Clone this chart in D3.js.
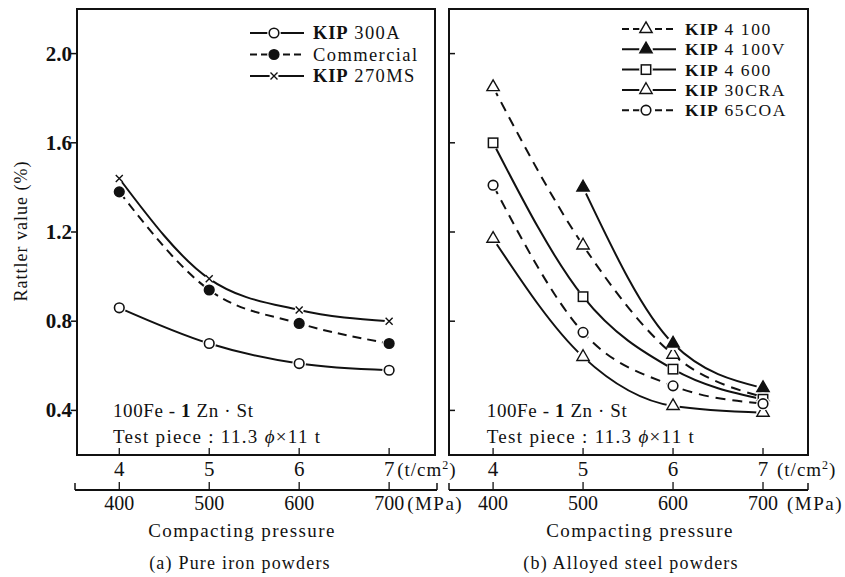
<!DOCTYPE html>
<html><head><meta charset="utf-8">
<script src="https://cdn.jsdelivr.net/npm/d3@7"></script>
<style>
body{margin:0;background:#fff;}
svg text{fill:#111;}
</style></head>
<body><svg id="c" width="845" height="577" font-family="'Liberation Serif', 'Times New Roman', Times, 'DejaVu Serif', serif"></svg>
<script>
// ---- data ----
const pressureT = [4, 5, 6, 7];            // t/cm2
const pressureMPa = [400, 500, 600, 700];  // MPa
const yTicks = [0.4, 0.8, 1.2, 1.6, 2.0];

const kip300A   = [0.86, 0.70, 0.61, 0.58];
const commercial= [1.38, 0.94, 0.79, 0.70];
const kip270MS  = [1.44, 0.99, 0.85, 0.80];

const kip4100   = [1.85, 1.14, 0.65, 0.46];
const kip4100V  = [null, 1.40, 0.70, 0.50];
const kip4600   = [1.60, 0.91, 0.585, 0.45];
const kip30CRA  = [1.17, 0.64, 0.42, 0.39];
const kip65COA  = [1.41, 0.75, 0.51, 0.43];

const seriesA = [
  {bold:"KIP", rest:" 300A", vals:kip300A, marker:"circle", fill:"#fff", dash:null},
  {bold:"", rest:"Commercial", vals:commercial, marker:"circle", fill:"#111", dash:"9,6"},
  {bold:"KIP", rest:" 270MS", vals:kip270MS, marker:"cross", fill:"none", dash:null}
];
const seriesB = [
  {bold:"KIP", rest:" 4 100", vals:kip4100, marker:"triangle", fill:"#fff", dash:"10,7"},
  {bold:"KIP", rest:" 4 100V", vals:kip4100V, marker:"triangle", fill:"#111", dash:null},
  {bold:"KIP", rest:" 4 600", vals:kip4600, marker:"square", fill:"#fff", dash:null},
  {bold:"KIP", rest:" 30CRA", vals:kip30CRA, marker:"triangle", fill:"#fff", dash:null},
  {bold:"KIP", rest:" 65COA", vals:kip65COA, marker:"circle", fill:"#fff", dash:"10,7"}
];

const svg = d3.select("#c");
const y = d3.scaleLinear().domain([0.2, 2.2]).range([455, 9]);

function marker(g, type, fill, cx, cy){
  // white halo so the curve stops short of the marker
  g.append("circle").attr("cx",cx).attr("cy",cy).attr("r",type==="cross"?4.5:6.8).attr("fill","#fff");
  if(type==="circle"){
    g.append("circle").attr("cx",cx).attr("cy",cy).attr("r",4.8)
     .attr("fill",fill).attr("stroke","#111").attr("stroke-width",1.6);
  } else if(type==="triangle"){
    const s=d3.symbol().type(d3.symbolTriangle).size(66);
    g.append("path").attr("d",s()).attr("transform",`translate(${cx},${cy})`)
     .attr("fill",fill).attr("stroke","#111").attr("stroke-width",1.4);
  } else if(type==="square"){
    g.append("rect").attr("x",cx-4.7).attr("y",cy-4.7).attr("width",9.4).attr("height",9.4)
     .attr("fill",fill).attr("stroke","#111").attr("stroke-width",1.5);
  } else if(type==="cross"){
    g.append("path").attr("d",`M${cx-3.5},${cy-3.5}L${cx+3.5},${cy+3.5}M${cx-3.5},${cy+3.5}L${cx+3.5},${cy-3.5}`)
     .attr("stroke","#111").attr("stroke-width",1.4);
  }
}

function panel(opt){
  const x = d3.scaleLinear().domain(opt.xdom).range([opt.x0, opt.x1]);
  const g = svg.append("g");
  // frame
  g.append("rect").attr("x",opt.x0).attr("y",y(2.2)).attr("width",opt.x1-opt.x0).attr("height",y(0.2)-y(2.2))
   .attr("fill","none").attr("stroke","#111").attr("stroke-width",2);
  // y ticks
  yTicks.forEach(v=>{
    if(opt.yLabels){
      g.append("line").attr("x1",opt.x0-6).attr("x2",opt.x0).attr("y1",y(v)).attr("y2",y(v)).attr("stroke","#111").attr("stroke-width",1.5);
      g.append("text").attr("x",opt.x0-5).attr("y",y(v)+7).attr("text-anchor","end")
       .attr("font-size",21).attr("font-weight","bold").text(v.toFixed(1));
    } else {
      g.append("line").attr("x1",opt.x0).attr("x2",opt.x0+6).attr("y1",y(v)).attr("y2",y(v)).attr("stroke","#111").attr("stroke-width",1.5);
    }
  });
  // t/cm2 ticks and labels
  pressureT.forEach(t=>{
    g.append("line").attr("x1",x(t)).attr("x2",x(t)).attr("y1",y(0.2)).attr("y2",y(0.2)-7).attr("stroke","#111").attr("stroke-width",1.3);
    g.append("text").attr("x",x(t)).attr("y",y(0.2)+21).attr("text-anchor","middle")
     .attr("font-size",21).text(t);
  });
  g.append("text").attr("x",x(7)+8+opt.unitGap).attr("y",y(0.2)+21).attr("font-size",19).attr("letter-spacing",1)
   .html('(t/cm<tspan dy="-7" font-size="12">2</tspan><tspan dy="7">)</tspan>');
  // MPa axis
  const ay = 490;
  const xm = d3.scaleLinear().domain(opt.xdom.map(d=>d*100)).range([opt.x0, opt.x1]);
  g.append("line").attr("x1",opt.mx0).attr("x2",opt.mx1).attr("y1",ay).attr("y2",ay).attr("stroke","#111").attr("stroke-width",2);
  [opt.mx0, opt.mx1].forEach(px=>g.append("line").attr("x1",px).attr("x2",px).attr("y1",ay).attr("y2",ay-7).attr("stroke","#111").attr("stroke-width",1.5));
  pressureMPa.forEach(m=>{
    g.append("line").attr("x1",xm(m)).attr("x2",xm(m)).attr("y1",ay).attr("y2",ay-8).attr("stroke","#111").attr("stroke-width",1.3);
    g.append("text").attr("x",xm(m)).attr("y",ay+20).attr("text-anchor","middle")
     .attr("font-size",20).text(m);
  });
  g.append("text").attr("x",xm(700)+18+opt.unitGap).attr("y",ay+20).attr("font-size",19).attr("letter-spacing",1.5).text("(MPa)");
  // axis titles
  g.append("text").attr("x",opt.titleX).attr("y",537).attr("text-anchor","middle")
   .attr("font-size",19).attr("letter-spacing",1.4).text("Compacting pressure");
  g.append("text").attr("x",opt.capX).attr("y",569).attr("text-anchor","middle")
   .attr("font-size",18).attr("letter-spacing",1.2).text(opt.caption);
  // annotation
  const ax = x(3.93);
  g.append("text").attr("x",ax).attr("y",y(0.37)).attr("font-size",19).attr("letter-spacing",0.6)
   .html('100Fe - <tspan font-weight="bold">1</tspan> Zn · St');
  g.append("text").attr("x",ax).attr("y",y(0.255)).attr("font-size",19).attr("letter-spacing",1.3)
   .html('Test piece : 11.3 <tspan font-style="italic">ϕ</tspan>×11 t');
  // series
  const line = d3.line().defined(d=>d[1]!==null).x(d=>x(d[0])).y(d=>y(d[1])).curve(d3.curveMonotoneX);
  opt.series.forEach(s=>{
    const pts = pressureT.map((t,i)=>[t, s.vals[i]]);
    g.append("path").attr("d",line(pts)).attr("fill","none").attr("stroke","#111").attr("stroke-width",2)
     .attr("stroke-dasharray",s.dash);
  });
  opt.series.forEach(s=>{
    pressureT.forEach((t,i)=>{ if(s.vals[i]!==null) marker(g, s.marker, s.fill, x(t), y(s.vals[i])); });
  });
  // legend
  opt.series.forEach((s,i)=>{
    const ly = opt.legY + i*opt.legStep;
    g.append("line").attr("x1",opt.legX).attr("x2",opt.legX+54).attr("y1",ly).attr("y2",ly)
     .attr("stroke","#111").attr("stroke-width",2).attr("stroke-dasharray",s.dash ? "7,4" : null);
    marker(g, s.marker, s.fill, opt.legX+24, ly);
    const t = g.append("text").attr("x",opt.legX+63).attr("y",ly+6).attr("font-size",opt.legFont);
    if(s.bold) t.append("tspan").attr("font-weight","bold").attr("letter-spacing",0.8).text(s.bold);
    t.append("tspan").attr("letter-spacing",opt.legSpace).text(s.rest);
  });
}

panel({x0:77, x1:435, xdom:[3.53,7.51], yLabels:true, unitGap:0, mx0:75, mx1:437,
  titleX:242, capX:240, caption:"(a) Pure iron powders", series:seriesA, legX:250, legY:33, legStep:21.5, legFont:18.5, legSpace:1.4});
panel({x0:449, x1:808, xdom:[3.51,7.5], yLabels:false, unitGap:6, mx0:449, mx1:808,
  titleX:640, capX:631, caption:"(b) Alloyed steel powders", series:seriesB, legX:622, legY:29, legStep:20.3, legFont:17.5, legSpace:1.6});

// y axis title
svg.append("text").attr("transform","translate(27,231) rotate(-90)").attr("text-anchor","middle")
  .attr("font-size",18).attr("letter-spacing",1).text("Rattler value (%)");
</script></body></html>
